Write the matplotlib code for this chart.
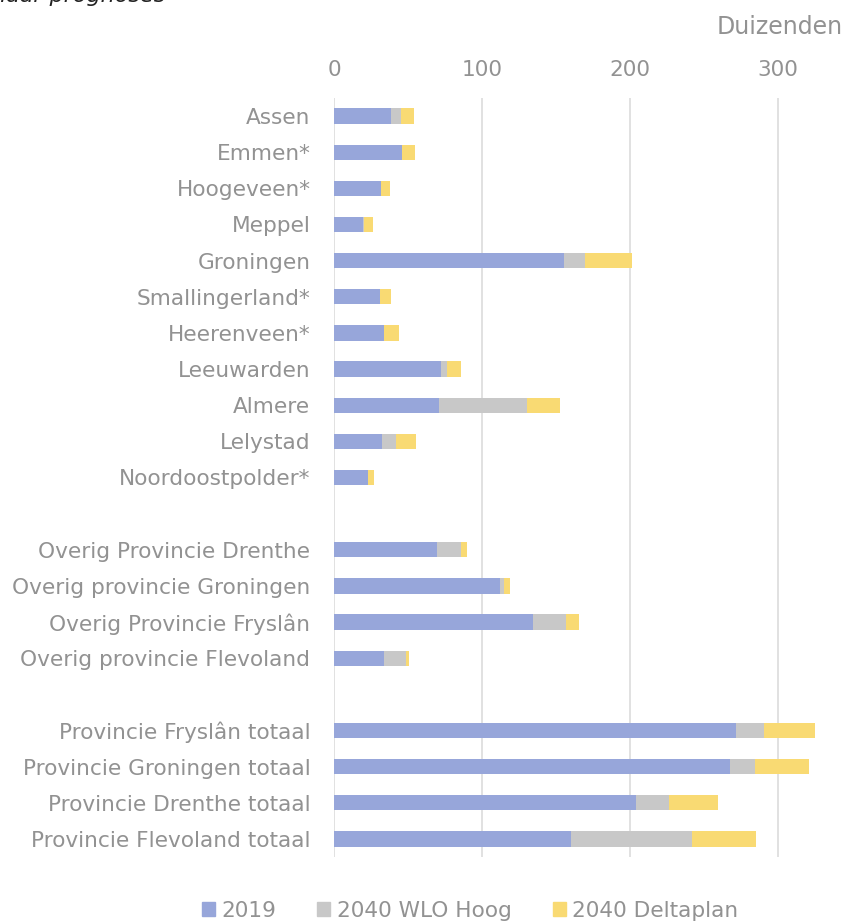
import numpy as np
import matplotlib
matplotlib.use('Agg')
import matplotlib.pyplot as plt
from matplotlib.patches import Patch

# bevolking (duizenden), gelezen uit de grafiek
gemeenten = ["Assen", "Emmen*", "Hoogeveen*", "Meppel", "Groningen",
             "Smallingerland*", "Heerenveen*", "Leeuwarden", "Almere",
             "Lelystad", "Noordoostpolder*",
             "Overig Provincie Drenthe", "Overig provincie Groningen",
             "Overig Provincie Fryslân", "Overig provincie Flevoland",
             "Provincie Fryslân totaal", "Provincie Groningen totaal",
             "Provincie Drenthe totaal", "Provincie Flevoland totaal"]
groep = [0]*11 + [1]*4 + [2]*4

v2019 = [38.5, 45.8, 31.8, 19.6, 155.5, 30.9, 33.8, 72.6, 71.2, 32.7, 23.0,
         69.6, 112.5, 134.8, 33.8,
         271.8, 267.5, 204.4, 160.0]
# extra groei bovenop 2019
wlo_hoog = [6.8, 0.0, 0.0, 0.9, 14.2, 0.0, 0.0, 3.8, 59.3, 9.0, 0.0,
            16.3, 2.2, 22.1, 14.9,
            18.5, 17.1, 22.1, 82.1]
deltaplan = [8.6, 9.0, 5.8, 6.1, 31.8, 7.6, 9.9, 9.5, 22.1, 13.7, 4.3,
             3.8, 4.5, 9.0, 2.2,
             34.9, 36.3, 32.7, 43.2]

c_blauw = '#97a6da'
c_grijs = '#c8c8c8'
c_geel = '#f9da73'
tekst = '#929292'
fs = 15.6

v2019 = np.array(v2019)
wlo_hoog = np.array(wlo_hoog)
deltaplan = np.array(deltaplan)
ypos = np.arange(len(gemeenten)) + np.array(groep)

fig = plt.figure(figsize=(8.46, 9.23), dpi=100)
ax = fig.add_axes([334/846, 1 - 857/923, (846 - 334)/846, (857 - 98)/923])

h = 0.42
ax.barh(ypos, v2019, height=h, color=c_blauw, zorder=3)
ax.barh(ypos, wlo_hoog, left=v2019, height=h, color=c_grijs, zorder=3)
ax.barh(ypos, deltaplan, left=v2019 + wlo_hoog, height=h, color=c_geel, zorder=3)

ax.set_ylim(ypos[-1] + 0.5, -0.5)
ax.set_xlim(0, 346)
ax.set_yticks(ypos)
ax.set_yticklabels(gemeenten)
ax.set_xticks([0, 100, 200, 300])
ax.xaxis.tick_top()
ax.tick_params(axis='both', length=0, labelsize=fs, labelcolor=tekst)
ax.tick_params(axis='y', pad=17)
ax.tick_params(axis='x', pad=13)
ax.grid(axis='x', color='#dedede', linewidth=1.3, zorder=0)
for s in ax.spines.values():
    s.set_visible(False)

fig.text(843/846, 1 - 27/923, 'Duizenden', ha='right', va='center',
         fontsize=17, color=tekst)
fig.text(-0.009, 1 + 4/923, 'naar prognoses', ha='left', va='center',
         fontsize=16, style='italic', color='#222222')

handles = [Patch(color=c_blauw), Patch(color=c_grijs), Patch(color=c_geel)]
fig.legend(handles, ['2019', '2040 WLO Hoog', '2040 Deltaplan'],
           loc='center', bbox_to_anchor=(470/846, 1 - 911/923), ncol=3,
           frameon=False, fontsize=fs, labelcolor=tekst,
           handlelength=0.6, handleheight=0.6, handletextpad=0.3,
           columnspacing=1.9)

fig.savefig('out.png', dpi=100)
